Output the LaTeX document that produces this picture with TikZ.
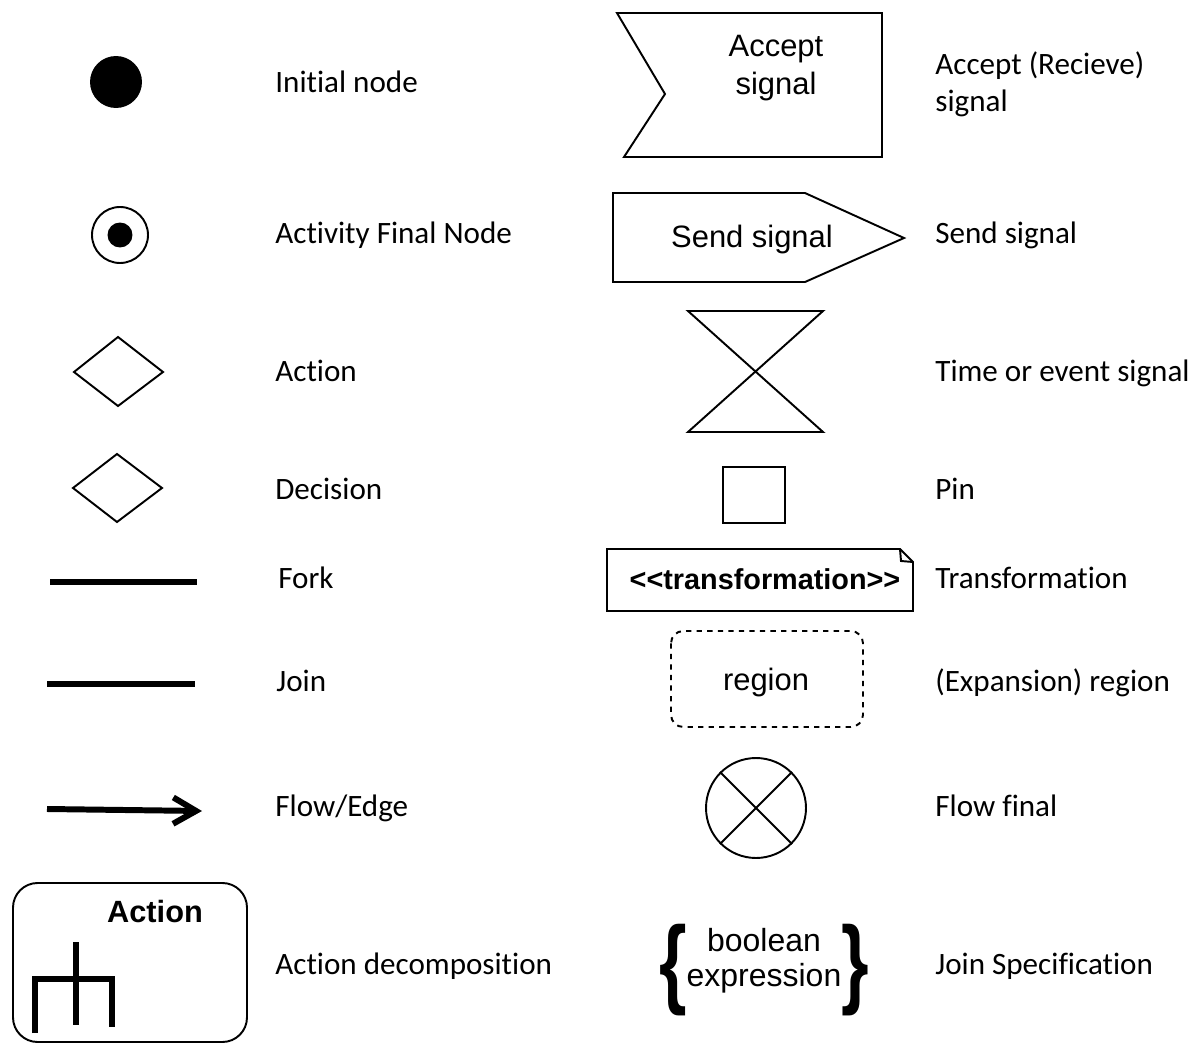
\documentclass[tikz,border=0pt]{standalone}
\usepackage{fontspec}
\setmainfont{Carlito}[Ligatures=NoCommon,Contextuals=NoAlternate]
\newfontfamily\arialfont{Liberation Sans}
\usetikzlibrary{arrows.meta,positioning}

\tikzset{
  lbl/.style={anchor=base west,inner sep=0pt,font=\fontsize{17.7}{21.5}\selectfont},
  symtext/.style={inner sep=0pt,align=center,font=\arialfont\fontsize{17.6}{21.5}\selectfont},
  outline/.style={draw=black,line width=1.1pt},
  bar/.style={line width=3.4pt},
  bracetext/.style={inner sep=0pt,font=\arialfont\bfseries\fontsize{56}{56}\selectfont},
}

\begin{document}
\begin{tikzpicture}[x=0.02cm,y=-0.02cm]
\useasboundingbox (0,0) rectangle (1197,1044);

% left column: symbols
\node[circle,fill=black,minimum size=1.04cm,inner sep=0pt] (init) at (116,82) {};

\node[circle,outline,minimum size=1.12cm,inner sep=0pt] (actfinal) at (120,235) {};
\node[circle,fill=black,minimum size=0.5cm,inner sep=0pt] (actfinaldot) at (actfinal.center) {};

\draw[outline,line join=miter] (74,372) -- (118,337) -- (163,372) -- (118,406) -- cycle;
\draw[outline,line join=miter] (73,488) -- (117,454) -- (162,488) -- (117,522) -- cycle;

\draw[bar] (50,582) -- (197,582);
\draw[bar] (47,684) -- (195,684);

\coordinate (flowstart) at (47,809);
\coordinate (flowend) at (202,811);
\draw[bar,-{Straight Barb[length=13pt,width=15pt]}] (flowstart) -- (flowend);

\draw[outline,rounded corners=14pt] (13,883) rectangle (247,1042);
\node[symtext,font=\arialfont\bfseries\fontsize{17.5}{21}\selectfont] (acttitle) at (155,912) {Action};
\draw[bar] (76,942) -- (76,1025);
\draw[bar,line join=miter] (35,1033) -- (35,979) -- (112,979) -- (112,1027);

% left column: labels
\node[lbl] (initlbl) at (275,93) {Initial node};
\node[lbl] (actfinallbl) at (275,244) {Activity Final Node};
\node[lbl] (actionlbl) at (275,381) {Action};
\node[lbl] (decisionlbl) at (275,499) {Decision};
\node[lbl] (forklbl) at (278,588) {Fork};
\node[lbl] (joinlbl) at (276,691) {Join};
\node[lbl] (flowlbl) at (275,816) {Flow/Edge};
\node[lbl] (decomplbl) at (275,974) {Action decomposition};

% right column: symbols
\draw[outline,line join=miter] (617,13) -- (882,13) -- (882,157) -- (624,157) -- (665,94) -- cycle;
\node[symtext] (accept) at (776,68) {Accept\\signal};

\draw[outline,line join=miter] (613,193) -- (805,193) -- (904,238) -- (805,282) -- (613,282) -- cycle;
\node[symtext] (send) at (752,240) {Send signal};

\draw[outline,line join=miter] (688,311) -- (823,311) -- (688,432) -- (823,432) -- cycle;

\draw[outline] (723,467) rectangle (785,523);

\draw[outline,line join=miter] (607,549) -- (900,549) -- (913,562) -- (913,611) -- (607,611) -- cycle;
\draw[outline] (900,549) -- (901,561) -- (913,562);
\node[symtext,font=\arialfont\bfseries\fontsize{16.4}{20}\selectfont] (transf) at (765,579) {<{}<transformation>{}>};

\draw[outline,dashed,rounded corners=7pt] (671,631) rectangle (863,727);
\node[symtext] (region) at (766,683) {region};

\node[circle,outline,minimum size=2cm,inner sep=0pt] (flowfinal) at (756,808) {};
\draw[outline] (flowfinal.45) -- (flowfinal.225) (flowfinal.135) -- (flowfinal.315);

\node[bracetext] (lbrace) at (673,970) {\scalebox{0.72}[1]{\{}};
\node[bracetext] (rbrace) at (855,970) {\scalebox{0.72}[1]{\}}};
\node[symtext,font=\arialfont\fontsize{18.2}{20}\selectfont] (boolexpr) at (764,961) {boolean\\expression};

% right column: labels
\node[lbl,align=left,anchor=north west] (acceptlbl) at (935,51) {Accept (Recieve)\\signal};
\node[lbl] (sendlbl) at (935,244) {Send signal};
\node[lbl] (timelbl) at (935,381) {Time or event signal};
\node[lbl] (pinlbl) at (935,499) {Pin};
\node[lbl] (transflbl) at (935,588) {Transformation};
\node[lbl] (regionlbl) at (935,691) {(Expansion) region};
\node[lbl] (flowfinallbl) at (935,816) {Flow final};
\node[lbl] (joinspeclbl) at (935,974) {Join Specification};
\end{tikzpicture}
\end{document}
